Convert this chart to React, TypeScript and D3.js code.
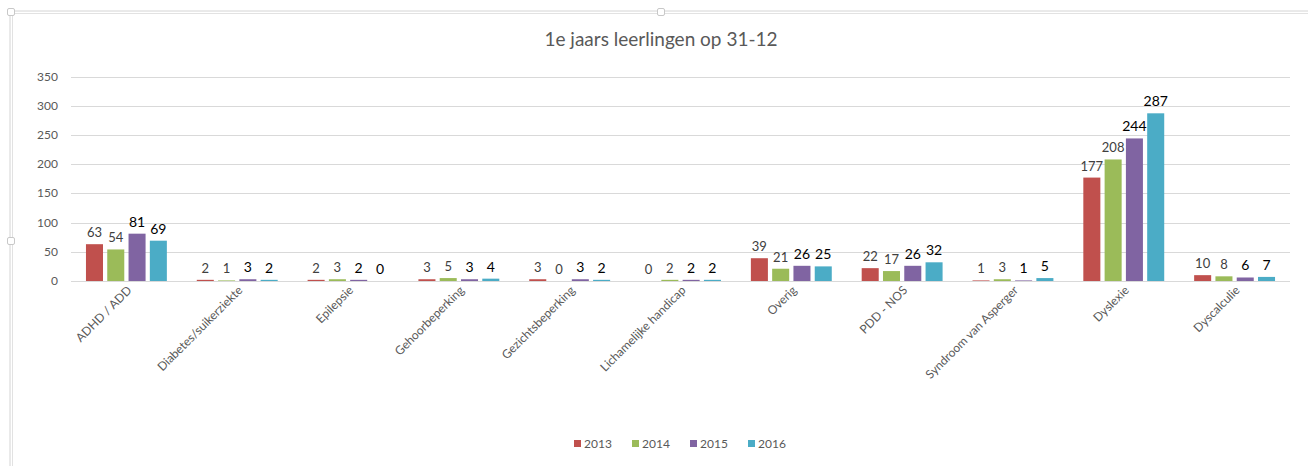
import React from "react";
import * as d3 from "d3";

const categories = [
  "ADHD / ADD",
  "Diabetes/suikerziekte",
  "Epilepsie",
  "Gehoorbeperking",
  "Gezichtsbeperking",
  "Lichamelijke handicap",
  "Overig",
  "PDD - NOS",
  "Syndroom van Asperger",
  "Dyslexie",
  "Dyscalculie",
];
const years = ["2013", "2014", "2015", "2016"];
const v2013 = [63, 2, 2, 3, 3, 0, 39, 22, 1, 177, 10];
const v2014 = [54, 1, 3, 5, 0, 2, 21, 17, 3, 208, 8];
const v2015 = [81, 3, 2, 3, 3, 2, 26, 26, 1, 244, 6];
const v2016 = [69, 2, 0, 4, 2, 2, 25, 32, 5, 287, 7];
const seriesValues = [v2013, v2014, v2015, v2016];
const colors = ["#C0504D", "#9BBB59", "#8064A2", "#4BACC6"];
const yTicks = [0, 50, 100, 150, 200, 250, 300, 350];
const title = "1e jaars leerlingen op 31-12";

const W = 1308;
const H = 466;
const FONT = "Lato, 'Open Sans', sans-serif";

export default function App() {
  const x0 = d3.scaleBand<string>().domain(categories).range([71, 1290]).paddingInner(0.27).paddingOuter(0.135);
  const x1 = d3.scaleBand<string>().domain(years).range([0, x0.bandwidth()]).paddingInner(0.2);
  const y = d3.scaleLinear().domain([0, 350]).range([281, 76.5]);

  const legendItemW = 58;
  const legendStart = 574;

  return (
    <svg width={W} height={H} style={{ position: "fixed", left: 0, top: 0, background: "#fff" }} fontFamily={FONT}>
      <rect x={0} y={0} width={W} height={H} fill="#fff" />
      {/* frame */}
      <line x1={12} x2={W} y1={11} y2={11} stroke="#d4d4d4" strokeWidth={1} />
      <line x1={12} x2={W} y1={13.5} y2={13.5} stroke="#e2e2e2" strokeWidth={1} />
      <line x1={10} x2={10} y1={12} y2={H} stroke="#d4d4d4" strokeWidth={1} />
      <line x1={12.5} x2={12.5} y1={12} y2={H} stroke="#e2e2e2" strokeWidth={1} />
      {[[11, 12], [661, 12], [11, 241]].map(([hx, hy], i) => (
        <rect key={i} x={hx - 3.5} y={hy - 3.5} width={7} height={7} rx={1.5} fill="#fff" stroke="#c8c8c8" />
      ))}
      {/* title */}
      <text x={661} y={46} textAnchor="middle" fontSize={19} fill="#595959">{title}</text>
      {/* gridlines */}
      {yTicks.map((t) => (
        <g key={t}>
          <line x1={71} x2={1290} y1={Math.round(y(t)) + 0.5} y2={Math.round(y(t)) + 0.5} stroke="#d9d9d9" strokeWidth={1} />
          <text x={58} y={y(t) + 4} textAnchor="end" fontSize={12} fill="#595959">{t}</text>
        </g>
      ))}
      {/* bars */}
      {categories.map((c, ci) => (
        <g key={c} transform={`translate(${x0(c)},0)`}>
          {years.map((yr, si) => {
            const v = seriesValues[si][ci];
            const bx = x1(yr)!;
            const top = y(v);
            const bold = si >= 2;
            return (
              <g key={yr}>
                <rect x={bx} y={top} width={x1.bandwidth()} height={Math.max(0, y(0) - top)} fill={colors[si]} />
                <text
                  x={bx + x1.bandwidth() / 2}
                  y={top - 7}
                  textAnchor="middle"
                  fontSize={bold ? 14 : 13}
                  fill={bold ? "#000" : "#404040"}
                >
                  {v}
                </text>
              </g>
            );
          })}
        </g>
      ))}
      {/* x labels */}
      {categories.map((c) => {
        const cx = x0(c)! + x0.bandwidth() / 2 + 6;
        return (
          <text key={c} transform={`translate(${cx},${291}) rotate(-45)`} textAnchor="end" fontSize={12} fill="#595959">
            {c}
          </text>
        );
      })}
      {/* legend */}
      {years.map((yr, i) => (
        <g key={yr} transform={`translate(${legendStart + i * legendItemW},0)`}>
          <rect x={0} y={440} width={7} height={7} fill={colors[i]} />
          <text x={10} y={448} fontSize={12} fill="#595959">{yr}</text>
        </g>
      ))}
    </svg>
  );
}
